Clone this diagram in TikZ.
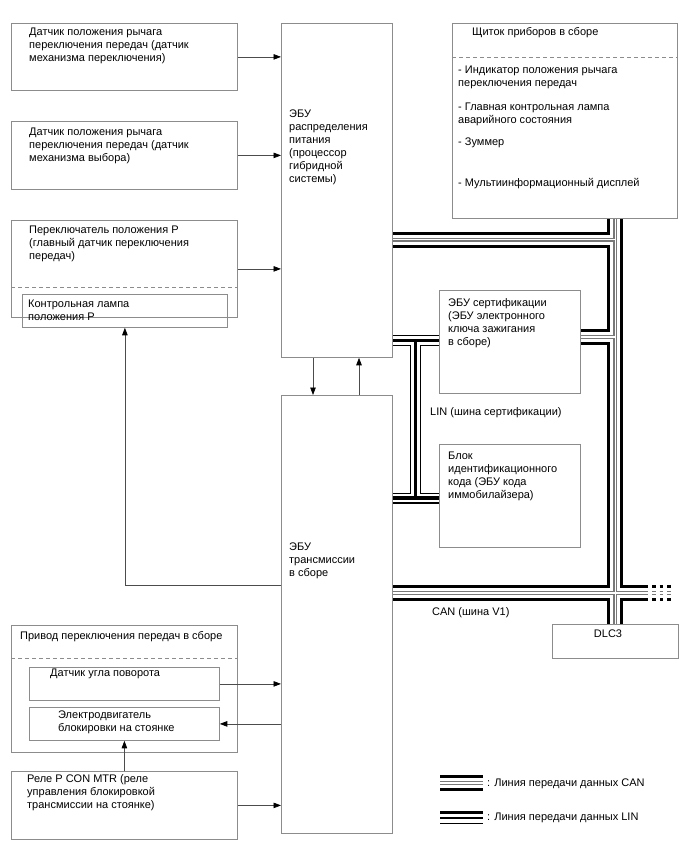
\documentclass[tikz,border=0pt]{standalone}
\usepackage{fontspec}
\setmainfont{Liberation Sans}
\usetikzlibrary{arrows.meta,backgrounds}
\definecolor{boxgray}{RGB}{140,140,140}
\definecolor{busgray}{RGB}{120,120,120}
\begin{document}
\begin{tikzpicture}[x=1pt,y=-1pt,
  font=\fontsize{11}{13}\selectfont,
  bx/.style={draw=boxgray,line width=0.8pt,inner sep=0pt,anchor=north west},
  lbl/.style={inner sep=0pt,anchor=north west,align=left},
  arr/.style={draw=black!70,line width=0.7pt,-{Triangle[length=7.5pt,width=5.5pt,color=black]}},
  sepline/.style={draw=boxgray,line width=0.7pt,dash pattern=on 4pt off 3pt},
  ]
\useasboundingbox (0,0) rectangle (688,852);

% boxes
\node[bx,minimum width=226pt,minimum height=67pt] (A) at (11,23) {};
\node[bx,minimum width=226pt,minimum height=68pt] (B) at (11,121) {};
\node[bx,minimum width=226pt,minimum height=97pt] (C) at (11,220) {};
\node[bx,minimum width=205pt,minimum height=33pt] (lamp) at (22,294) {};
\node[bx,minimum width=111pt,minimum height=334pt] (pecu) at (281,23) {};
\node[bx,minimum width=111pt,minimum height=438pt] (tecu) at (281,395) {};
\node[bx,minimum width=225pt,minimum height=195pt] (instr) at (452,23) {};
\node[bx,minimum width=141pt,minimum height=103pt] (cert) at (439,290) {};
\node[bx,minimum width=141pt,minimum height=103pt] (idb) at (439,444) {};
\node[bx,minimum width=126pt,minimum height=34pt] (dlc) at (552,624) {};
\node[bx,minimum width=226pt,minimum height=127pt] (act) at (11,625) {};
\node[bx,minimum width=190pt,minimum height=33pt] (sens) at (29,667) {};
\node[bx,minimum width=190pt,minimum height=33pt] (motor) at (29,707) {};
\node[bx,minimum width=226pt,minimum height=68pt] (relay) at (11,771) {};

% helper coordinates
\coordinate (sepC) at (0,287);
\coordinate (sepI) at (0,57);
\coordinate (sepA) at (0,658);
\coordinate (can1) at (0,239.5);
\coordinate (canc) at (0,337);
\coordinate (canb) at (0,593);
\coordinate (canend) at (648,593);
\coordinate (dashs) at (652,593);
\coordinate (dashe) at (672,593);
\coordinate (lin1) at (0,340.5);
\coordinate (lin2) at (0,498);
\coordinate (linv) at (415.5,0);
\coordinate (back) at (0,585);
\coordinate (lg1a) at (440,783);
\coordinate (lg1b) at (483,783);
\coordinate (lg2a) at (440,812.5);
\coordinate (lg2b) at (483,812.5);
\coordinate (lg3a) at (440,818);
\coordinate (lg3b) at (483,818);
\coordinate (lg4a) at (440,823.2);
\coordinate (lg4b) at (483,823.2);

% dashed separators
\draw[sepline] (C.west |- sepC) -- (C.east |- sepC);
\draw[sepline] (instr.west |- sepI) -- (instr.east |- sepI);
\draw[sepline] (act.west |- sepA) -- (act.east |- sepA);

% texts
\node[lbl] (tA) at (29,27.5) {Датчик положения рычага\\переключения передач (датчик\\механизма переключения)};
\node[lbl] (tB) at (29,127.5) {Датчик положения рычага\\переключения передач (датчик\\механизма выбора)};
\node[lbl] (tC) at (29,225.8) {Переключатель положения P\\(главный датчик переключения\\передач)};
\node[lbl] (tLamp) at (28,300) {Контрольная лампа\\положения P};
\node[lbl] (tP) at (289,109.5) {ЭБУ\\распределения\\питания\\(процессор\\гибридной\\системы)};
\node[lbl] (tT) at (289,542.5) {ЭБУ\\трансмиссии\\в сборе};
\node[lbl] (tI0) at (472,27.5) {Щиток приборов в сборе};
\node[lbl] (tI1) at (458,66.2) {- Индикатор положения рычага\\переключения передач};
\node[lbl] (tI2) at (458,102.8) {- Главная контрольная лампа\\аварийного состояния};
\node[lbl] (tI3) at (458,137.2) {- Зуммер};
\node[lbl] (tI4) at (458,178.2) {- Мультиинформационный дисплей};
\node[lbl] (tCert) at (448,298.5) {ЭБУ сертификации\\(ЭБУ электронного\\ключа зажигания\\в сборе)};
\node[lbl] (tID) at (448,451.5) {Блок\\идентификационного\\кода (ЭБУ кода\\иммобилайзера)};
\node[lbl] (tLIN) at (430,407.5) {LIN (шина сертификации)};
\node[lbl] (tCAN) at (432,607.5) {CAN (шина V1)};
\node[inner sep=0pt] (tDLC) at (608,633.5) {DLC3};
\node[lbl] (tAct) at (20,631.5) {Привод переключения передач в сборе};
\node[lbl] (tSens) at (50,668.5) {Датчик угла поворота};
\node[lbl] (tMotor) at (58,710.5) {Электродвигатель\\блокировки на стоянке};
\node[lbl] (tRelay) at (27,774.5) {Реле P CON MTR (реле\\управления блокировкой\\трансмиссии на стоянке)};
\node[lbl] (tLg1) at (487,778.5) {: Линия передачи данных CAN};
\node[lbl] (tLg2) at (487,812.5) {: Линия передачи данных LIN};

% arrows
\draw[arr] (A.east) -- (A.east -| pecu.west);
\draw[arr] (B.east) -- (B.east -| pecu.west);
\draw[arr] (C.east) -- (C.east -| pecu.west);
\draw[arr] ([xshift=32pt]pecu.south west) -- ([xshift=32pt]tecu.north west);
\draw[arr] ([xshift=78pt]tecu.north west) -- ([xshift=78pt]pecu.south west);
\draw[arr] (tecu.west |- back) -- (lamp.south |- back) -- (lamp.south);
\draw[arr] (sens.east) -- (sens.east -| tecu.west);
\draw[arr] (motor.east -| tecu.west) -- (motor.east);
\draw[arr] (relay.east) -- (relay.east -| tecu.west);
\draw[arr] (relay.north) -- (motor.south);

% buses
\begin{scope}[on background layer]
\foreach \w/\c in {16pt/black,10pt/white,4pt/busgray,1.8pt/white}{
  \draw[line width=\w,\c] (pecu.east |- can1) -- (dlc.north |- can1)
     (dlc.north |- instr.south) -- (dlc.north)
     (cert.east |- canc) -- (dlc.north |- canc)
     (tecu.east |- canb) -- (canend)
     (lg1a) -- (lg1b);
}
\draw[line width=16pt,black,dash pattern=on 3.5pt off 4pt] (dashs) -- (dashe);
\draw[line width=10pt,white] (dashs) -- (dashe);
\draw[line width=4pt,busgray,dash pattern=on 3.5pt off 4pt] (dashs) -- (dashe);
\draw[line width=1.8pt,white] (dashs) -- (dashe);
\foreach \w/\c in {11pt/black,8.5pt/white,3.5pt/black}{
  \draw[line width=\w,\c] (pecu.east |- lin1) -- (cert.west |- lin1)
     (linv |- lin1) -- (linv |- lin2)
     (tecu.east |- lin2) -- (idb.west |- lin2);
}
\draw[line width=3pt,black] (lg2a) -- (lg2b);
\draw[line width=2.7pt,black] (lg3a) -- (lg3b);
\draw[line width=1pt,black] (lg4a) -- (lg4b);
\end{scope}
\end{tikzpicture}
\end{document}
